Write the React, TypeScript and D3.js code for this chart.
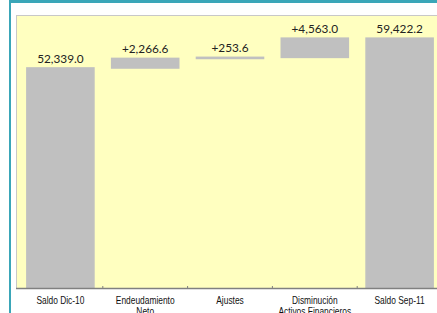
import * as d3 from "d3"

const categories = ["Saldo Dic-10", "Endeudamiento Neto", "Ajustes", "Disminución Activos Financieros", "Saldo Sep-11"]
const categoryLines = [["Saldo Dic-10"], ["Endeudamiento", "Neto"], ["Ajustes"], ["Disminución", "Activos Financieros"], ["Saldo Sep-11"]]
const values = [52339.0, 2266.6, 253.6, 4563.0, 59422.2]
const kinds = ["total", "delta", "delta", "delta", "total"]

const width = 437
const height = 313

export default function App() {
  const plot = { left: 16, top: 15, bottom: 288, right: 442 }

  const x = d3
    .scaleBand<string>()
    .domain(categories)
    .range([18, 442])
    .paddingInner(0.21)
    .paddingOuter(0.105)

  const y = d3.scaleLinear().domain([0, 64700]).range([plot.bottom, plot.top + 1])

  // running base for the waterfall
  let running = 0
  const bars = categories.map((c, i) => {
    let y0 = 0
    let y1 = values[i]
    if (kinds[i] === "total") {
      running = values[i]
    } else {
      y0 = running
      y1 = running + values[i]
      running = y1
    }
    return { c, y0, y1, v: values[i], kind: kinds[i] }
  })

  const fmt = d3.format(",.1f")
  const step = x.step()
  const tickXs = categories.slice(1).map((c) => (x(c) as number) - (step * 0.21) / 2)

  return (
    <svg
      width={width}
      height={height}
      style={{ position: "absolute", left: 0, top: 0, background: "#fff" }}
    >
      {/* outer frame */}
      <rect x={9} y={0} width={width - 9} height={3} fill="#3aa6b8" />
      <rect x={9} y={0} width={2} height={height} fill="#3aa6b8" />

      {/* plot area */}
      <rect
        x={plot.left + 0.5}
        y={plot.top + 0.5}
        width={plot.right - plot.left}
        height={plot.bottom - plot.top}
        fill="#ffffc0"
        stroke="#c8c8c8"
        strokeWidth={1}
      />

      {bars.map((b) => (
        <rect
          key={b.c}
          x={x(b.c)}
          y={y(Math.max(b.y0, b.y1))}
          width={x.bandwidth()}
          height={Math.abs(y(b.y0) - y(b.y1))}
          fill="#c0c0c0"
          stroke="#c0c0c0"
          strokeWidth={1.6}
        />
      ))}

      {bars.map((b) => (
        <text
          key={b.c + "-lbl"}
          x={(x(b.c) as number) + x.bandwidth() / 2}
          y={y(Math.max(b.y0, b.y1)) - 5}
          textAnchor="middle"
          fontFamily="Lato, 'Open Sans', sans-serif"
          fontSize={11.8}
          fill="#222"
        >
          {(b.kind === "delta" ? "+" : "") + fmt(b.v)}
        </text>
      ))}

      {/* category axis */}
      <line x1={plot.left} x2={width} y1={plot.bottom + 0.5} y2={plot.bottom + 0.5} stroke="#808080" strokeWidth={1.5} />
      {tickXs.map((t, i) => (
        <line key={i} x1={t} x2={t} y1={plot.bottom - 2} y2={plot.bottom + 1} stroke="#808080" strokeWidth={1} />
      ))}

      {categories.map((c, i) => {
        const cx = (x(c) as number) + x.bandwidth() / 2
        return (
          <text
            key={c + "-cat"}
            transform={`translate(${cx},304) scale(0.84,1)`}
            textAnchor="middle"
            fontFamily="'Liberation Sans', Arial, sans-serif"
            fontSize={10}
            fill="#111"
          >
            {categoryLines[i].map((line, j) => (
              <tspan key={j} x={0} dy={j === 0 ? 0 : 11.5}>
                {line}
              </tspan>
            ))}
          </text>
        )
      })}
    </svg>
  )
}
